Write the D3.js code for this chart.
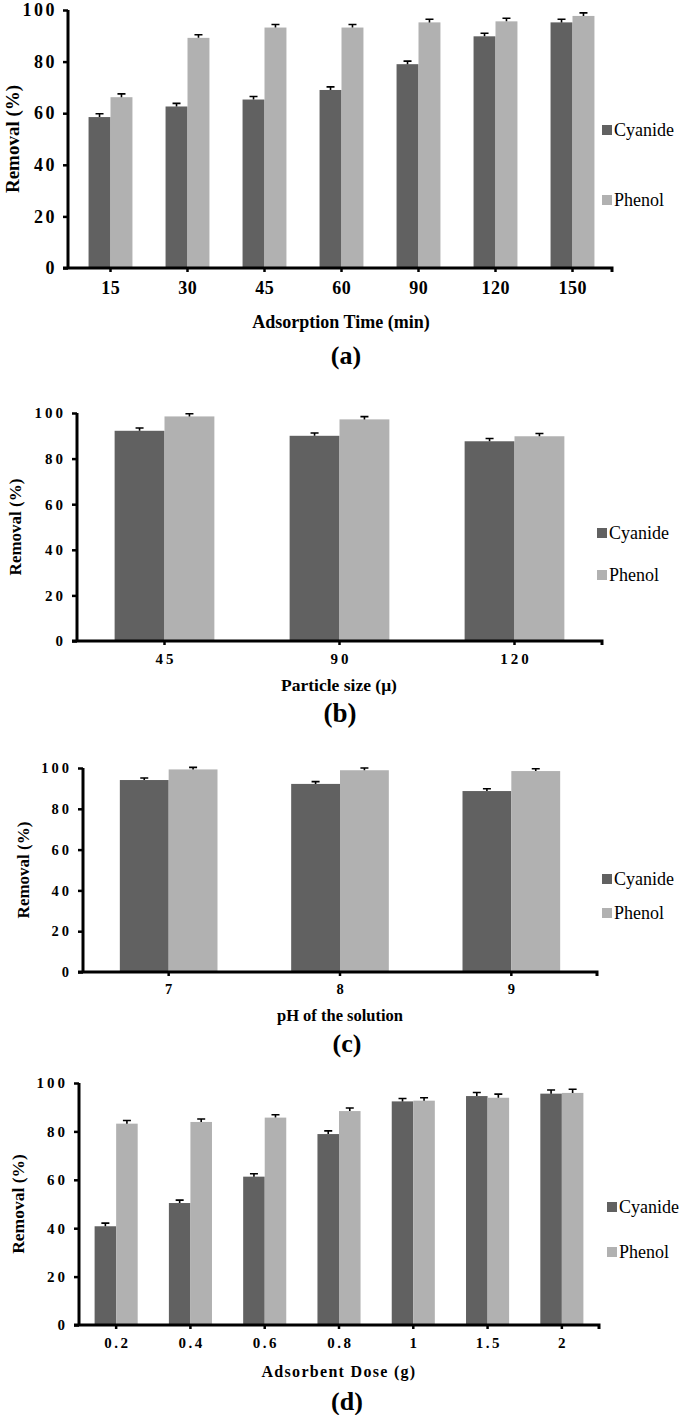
<!DOCTYPE html>
<html><head><meta charset="utf-8">
<script src="https://cdn.jsdelivr.net/npm/d3@7"></script>
<style>
body{margin:0;background:#fff}svg{display:block}
svg text{font-family:"Liberation Serif","Times New Roman",Times,serif;}
</style>
</head><body>
<svg id="chart" width="685" height="1415"></svg>
<script>
// ---- data ----
const seriesNames = ["Cyanide", "Phenol"];
const yTicks = [0, 20, 40, 60, 80, 100];

const timeCats = ["15", "30", "45", "60", "90", "120", "150"];
const timeCyanide = [58.5, 62.6, 65.3, 69.0, 79.0, 89.8, 95.2];
const timePhenol = [66.2, 89.2, 93.2, 93.2, 95.2, 95.6, 97.7];
const timeErr = [1.3, 1.2, 1.2, 1.2, 1.2, 1.2, 1.2];

const sizeCats = ["45", "90", "120"];
const sizeCyanide = [92.2, 90.0, 87.6];
const sizePhenol = [98.5, 97.2, 89.8];
const sizeErr = [1.2, 1.2, 1.2];

const phCats = ["7", "8", "9"];
const phCyanide = [94.1, 92.2, 88.7];
const phPhenol = [99.3, 98.9, 98.5];
const phErr = [1.0, 1.1, 1.1];

const doseCats = ["0.2", "0.4", "0.6", "0.8", "1", "1.5", "2"];
const doseCyanide = [40.8, 50.4, 61.3, 78.9, 92.4, 94.6, 95.6];
const dosePhenol = [83.2, 83.9, 85.7, 88.4, 92.7, 93.9, 95.9];
const doseErr = [1.3, 1.2, 1.2, 1.3, 1.2, 1.5, 1.5];

const colors = ["#616161", "#b1b1b1"];

const svg = d3.select("#chart");

function panel(o) {
  const g = svg.append("g");
  const x = d3.scaleBand().domain(o.cats).range(o.br).paddingInner(o.pad).paddingOuter(o.pad / 2);
  const y = d3.scaleLinear().domain([0, 100]).range([o.yb, o.yt]);
  const x1 = d3.scaleBand().domain(seriesNames).range([0, x.bandwidth()]);
  const vals = [o.cy, o.ph];

  seriesNames.forEach((s, si) => {
    g.selectAll(null).data(o.cats).enter().append("rect")
      .attr("x", (c) => x(c) + x1(s))
      .attr("y", (c, i) => y(vals[si][i]))
      .attr("width", x1.bandwidth())
      .attr("height", (c, i) => y(0) - y(vals[si][i]))
      .attr("fill", colors[si]);
    g.selectAll(null).data(o.cats).enter().append("path")
      .attr("d", (c, i) => {
        const cx = x(c) + x1(s) + x1.bandwidth() / 2;
        const top = y(vals[si][i] + o.err[i]);
        const bot = y(vals[si][i]);
        return `M${cx},${bot}V${top}M${cx - 4},${top}H${cx + 4}`;
      })
      .attr("stroke", "#000").attr("stroke-width", 1.6).attr("fill", "none");
  });

  const ya = g.append("g").attr("transform", `translate(${o.x0},0)`)
    .call(d3.axisLeft(y).tickValues(yTicks).tickSize(5).tickPadding(o.ypad));
  ya.attr("font-family", null);
  ya.select(".domain").attr("stroke-width", 3).attr("d", `M0,${y(0)}V${y(100)}`);
  ya.selectAll(".tick line").attr("stroke-width", 2.5);
  ya.selectAll("text").attr("font-weight", "bold")
    .attr("font-size", o.tickFs).attr("letter-spacing", o.yls).attr("fill", "#000");

  const xa = g.append("g").attr("transform", `translate(0,${y(0)})`)
    .call(d3.axisBottom(x).tickSize(4).tickPadding(o.xpad));
  xa.attr("font-family", null);
  xa.select(".domain").attr("stroke-width", 3).attr("d", `M${o.x0 - 5},0H${o.x1}V4`);
  xa.selectAll(".tick line").attr("stroke-width", 2.5);
  xa.selectAll("text").attr("font-weight", "bold")
    .attr("font-size", o.tickFs).attr("letter-spacing", o.xls).attr("fill", "#000")
    .attr("dx", o.xls / 2);

  g.append("text")
    .attr("transform", `translate(${o.ylx},${(y(0) + y(100)) / 2}) rotate(-90)`)
    .attr("text-anchor", "middle").attr("dominant-baseline", "central")
    .attr("font-weight", "bold").attr("font-size", o.ylFs)
    .text("Removal (%)");

  g.append("text").attr("x", o.xtX).attr("y", o.xtY)
    .attr("text-anchor", "middle").attr("dominant-baseline", "central")
    .attr("font-weight", "bold").attr("font-size", o.xtFs)
    .attr("letter-spacing", o.xtLs)
    .text(o.xtitle);

  g.append("text").attr("x", o.pX).attr("y", o.pY)
    .attr("text-anchor", "middle").attr("dominant-baseline", "central")
    .attr("font-weight", "bold").attr("font-size", o.pFs)
    .text(o.plabel);

  seriesNames.forEach((s, si) => {
    g.append("rect").attr("x", o.lx).attr("y", o.ly[si] - 5).attr("width", 10).attr("height", 10).attr("fill", colors[si]);
    g.append("text").attr("x", o.lx + 12).attr("y", o.ly[si])
      .attr("dominant-baseline", "central")
      .attr("font-size", 18).text(s);
  });
}

panel({cats: timeCats, cy: timeCyanide, ph: timePhenol, err: timeErr,
  x0: 68, x1: 612, br: [72, 611], yb: 268, yt: 10, pad: 0.43, tickFs: 18, yls: 2.5, xls: 0.5, xpad: 9, ypad: 6,
  ylx: 12, ylFs: 19, xtitle: "Adsorption Time (min)", xtX: 341, xtY: 322, xtFs: 18, xtLs: 0,
  plabel: "(a)", pX: 346, pY: 355, pFs: 26, lx: 602, ly: [130, 200]});

panel({cats: sizeCats, cy: sizeCyanide, ph: sizePhenol, err: sizeErr,
  x0: 77, x1: 602, br: [77, 602], yb: 641, yt: 413, pad: 0.43, tickFs: 15, yls: 3, xls: 3, xpad: 8, ypad: 6,
  ylx: 15, ylFs: 17, xtitle: "Particle size (μ)", xtX: 339, xtY: 685, xtFs: 17.5, xtLs: 0,
  plabel: "(b)", pX: 340, pY: 713, pFs: 27, lx: 597, ly: [533, 575]});

panel({cats: phCats, cy: phCyanide, ph: phPhenol, err: phErr,
  x0: 83, x1: 597, br: [83, 597], yb: 972, yt: 768, pad: 0.43, tickFs: 14.5, yls: 3, xls: 3, xpad: 8, ypad: 6,
  ylx: 23, ylFs: 17, xtitle: "pH of the solution", xtX: 340, xtY: 1015, xtFs: 16.5, xtLs: 0,
  plabel: "(c)", pX: 347, pY: 1043, pFs: 26, lx: 602, ly: [879, 913]});

panel({cats: doseCats, cy: doseCyanide, ph: dosePhenol, err: doseErr,
  x0: 79, x1: 599, br: [79, 599], yb: 1325, yt: 1083, pad: 0.42, tickFs: 15, yls: 3, xls: 2.5, xpad: 8, ypad: 6,
  ylx: 18, ylFs: 17.5, xtitle: "Adsorbent Dose (g)", xtX: 339, xtY: 1371, xtFs: 16, xtLs: 1.3,
  plabel: "(d)", pX: 347, pY: 1401, pFs: 26, lx: 607, ly: [1207, 1252]});
</script>
</body></html>
